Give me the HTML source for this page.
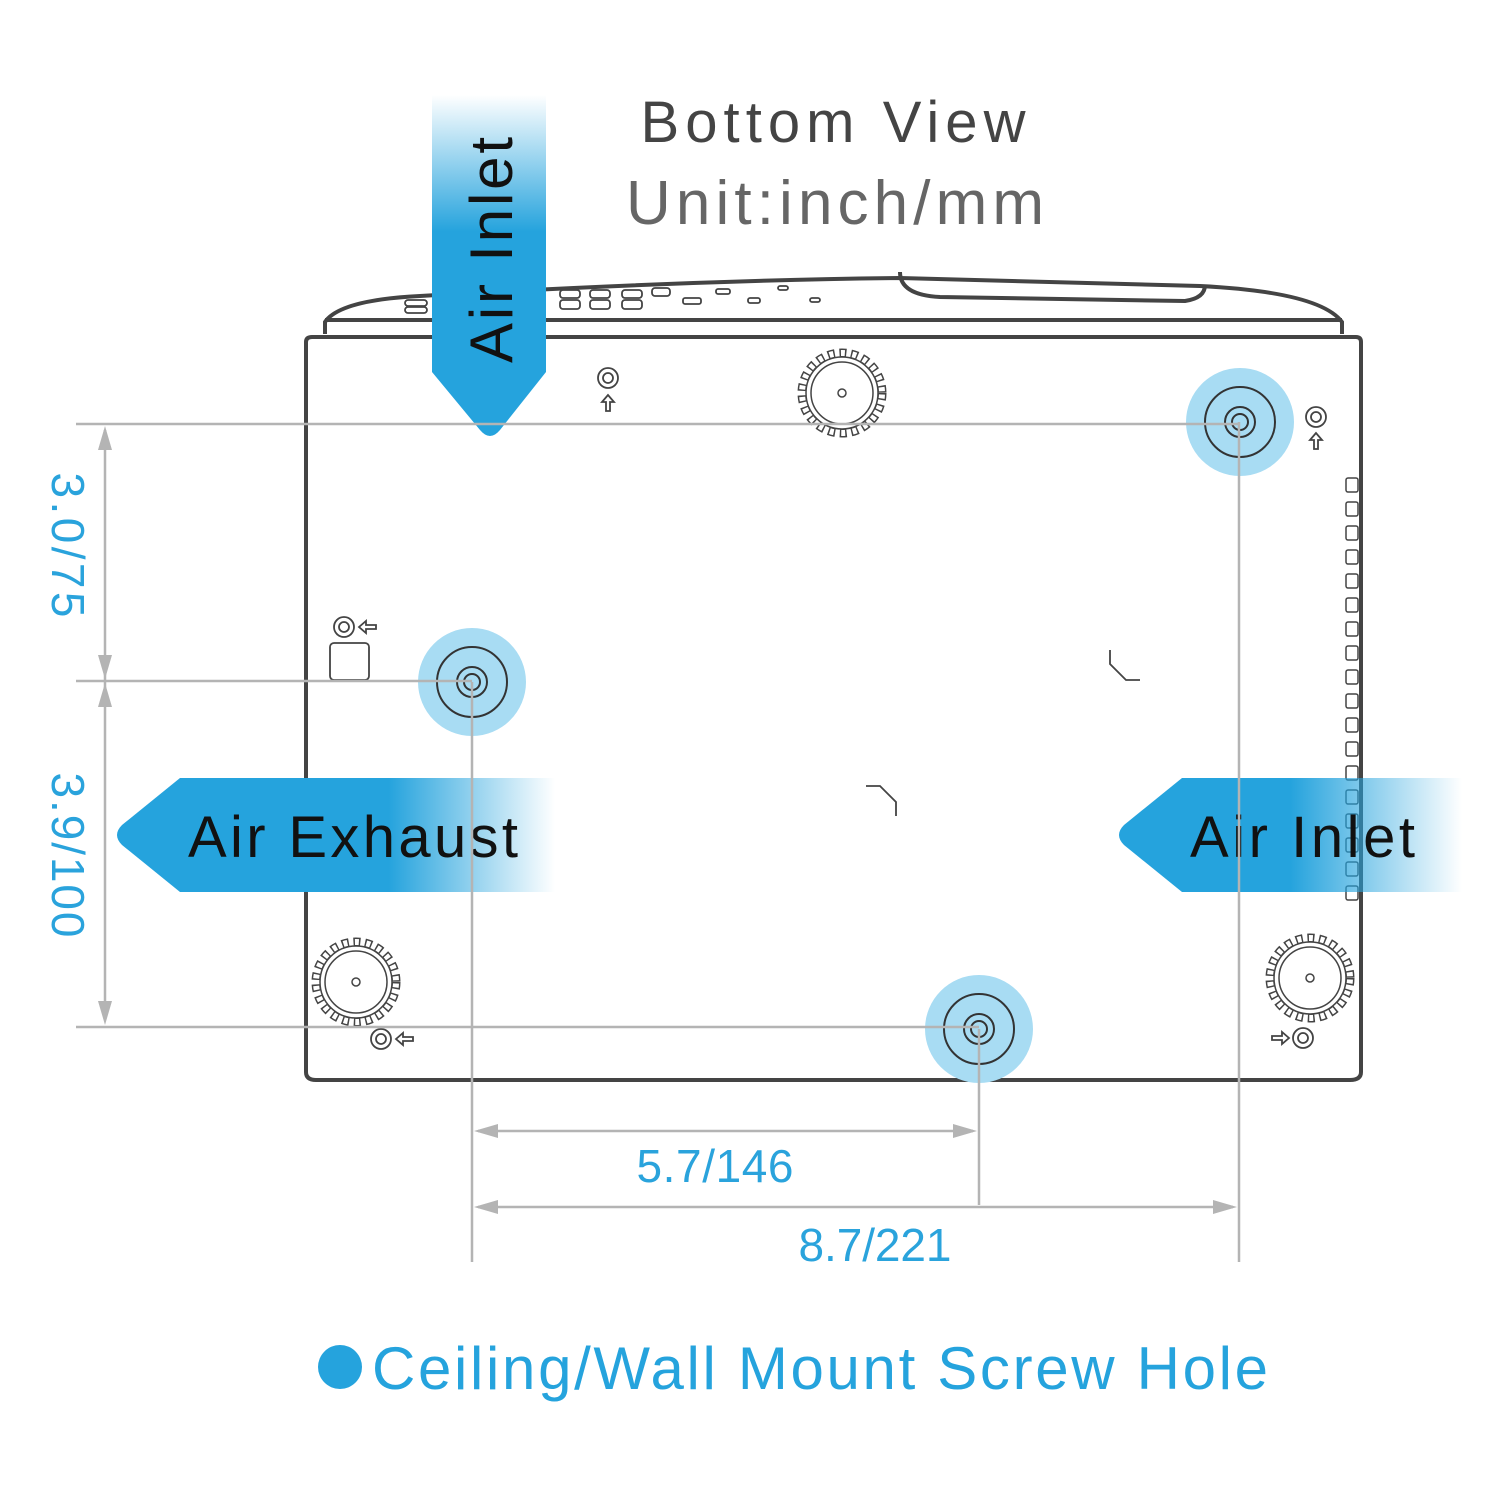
<!DOCTYPE html>
<html><head><meta charset="utf-8"><style>html,body{margin:0;padding:0;background:#fff}svg{display:block}</style></head>
<body>
<svg width="1500" height="1500" viewBox="0 0 1500 1500" xmlns="http://www.w3.org/2000/svg" font-family="Liberation Sans, sans-serif">
<defs>
<linearGradient id="gv" x1="0" y1="0" x2="0" y2="1"><stop offset="0" stop-color="#25a3dd" stop-opacity="0"/><stop offset="0.4" stop-color="#25a3dd"/><stop offset="1" stop-color="#25a3dd"/></linearGradient>
<linearGradient id="gh1" x1="0" y1="0" x2="1" y2="0"><stop offset="0" stop-color="#25a3dd"/><stop offset="0.62" stop-color="#25a3dd"/><stop offset="1" stop-color="#25a3dd" stop-opacity="0"/></linearGradient>
<linearGradient id="gh2" x1="0" y1="0" x2="1" y2="0"><stop offset="0" stop-color="#25a3dd"/><stop offset="0.5" stop-color="#25a3dd"/><stop offset="1" stop-color="#25a3dd" stop-opacity="0"/></linearGradient>
<g id="gear"><circle r="40" fill="none" stroke="#444" stroke-width="9" stroke-dasharray="7 4.6"/><circle r="40" fill="none" stroke="#fff" stroke-width="6" stroke-dasharray="4 7.6" stroke-dashoffset="-1.5"/><circle r="36" fill="#fff" stroke="#444" stroke-width="1.5"/><circle r="31" fill="none" stroke="#444" stroke-width="1.5"/><circle r="4" fill="none" stroke="#444" stroke-width="1.5"/></g>
<g id="hole"><circle r="54" fill="#a8dcf3"/><circle r="35" fill="none" stroke="#333" stroke-width="2"/><circle r="15" fill="none" stroke="#333" stroke-width="2"/><circle r="8" fill="none" stroke="#333" stroke-width="2"/></g>
</defs>
<text x="833" y="142" font-size="58" fill="#444" text-anchor="middle" textLength="385">Bottom View</text>
<text x="835" y="224" font-size="62" fill="#666" text-anchor="middle" textLength="418">Unit:inch/mm</text>
<path d="M325 334 V322 Q340 300 420 296 Q700 280 900 278 L1200 286 Q1320 292 1342 322 V334" fill="none" stroke="#444" stroke-width="4"/>
<line x1="325" y1="320" x2="1342" y2="320" stroke="#444" stroke-width="4"/>
<path d="M900 272 Q900 295 940 297 L1185 301 Q1205 298 1205 285" fill="none" stroke="#444" stroke-width="4"/>
<g fill="none" stroke="#444" stroke-width="1.8">
<rect x="560" y="290" width="20" height="8" rx="3"/><rect x="590" y="290" width="20" height="8" rx="3"/><rect x="622" y="290" width="20" height="8" rx="3"/><rect x="652" y="288" width="18" height="8" rx="3"/>
<rect x="560" y="300" width="20" height="9" rx="3"/><rect x="590" y="300" width="20" height="9" rx="3"/><rect x="622" y="300" width="20" height="9" rx="3"/><rect x="683" y="298" width="18" height="6" rx="2"/>
<rect x="716" y="289" width="14" height="5" rx="2"/><rect x="748" y="298" width="12" height="5" rx="2"/><rect x="778" y="286" width="10" height="4" rx="2"/><rect x="810" y="298" width="10" height="4" rx="2"/>
<rect x="405" y="300" width="22" height="6" rx="3"/><rect x="405" y="307" width="22" height="6" rx="3"/>
</g>
<path d="M306 1072 V342 Q306 337 312 337 H1356 Q1361 337 1361 342 V1072 Q1361 1080 1350 1080 H316 Q306 1080 306 1072 Z" fill="#fff" stroke="#444" stroke-width="4"/>
<g fill="none" stroke="#444" stroke-width="1.5">
<rect x="1346" y="478" width="12" height="14" rx="2"/><rect x="1346" y="502" width="12" height="14" rx="2"/><rect x="1346" y="526" width="12" height="14" rx="2"/><rect x="1346" y="550" width="12" height="14" rx="2"/><rect x="1346" y="574" width="12" height="14" rx="2"/><rect x="1346" y="598" width="12" height="14" rx="2"/><rect x="1346" y="622" width="12" height="14" rx="2"/><rect x="1346" y="646" width="12" height="14" rx="2"/><rect x="1346" y="670" width="12" height="14" rx="2"/><rect x="1346" y="694" width="12" height="14" rx="2"/><rect x="1346" y="718" width="12" height="14" rx="2"/><rect x="1346" y="742" width="12" height="14" rx="2"/><rect x="1346" y="766" width="12" height="14" rx="2"/><rect x="1346" y="790" width="12" height="14" rx="2"/><rect x="1346" y="814" width="12" height="14" rx="2"/><rect x="1346" y="838" width="12" height="14" rx="2"/><rect x="1346" y="862" width="12" height="14" rx="2"/><rect x="1346" y="886" width="12" height="14" rx="2"/>
</g>
<g fill="none" stroke="#444" stroke-width="1.8">
<circle cx="608" cy="378" r="10"/><circle cx="608" cy="378" r="5"/><path d="M608 395 l-6 7 h4 v9 h4 v-9 h4 z"/>
<circle cx="1316" cy="417" r="10"/><circle cx="1316" cy="417" r="5"/><path d="M1316 433 l-6 7 h4 v9 h4 v-9 h4 z"/>
<circle cx="344" cy="627" r="10"/><circle cx="344" cy="627" r="5"/><path d="M359 627 l7 -6 v4 h10 v4 h-10 v4 z"/>
<rect x="330" y="643" width="39" height="37" rx="4"/>
<circle cx="381" cy="1039" r="10"/><circle cx="381" cy="1039" r="5"/><path d="M396 1039 l7 -6 v4 h10 v4 h-10 v4 z"/>
<circle cx="1303" cy="1038" r="10"/><circle cx="1303" cy="1038" r="5"/><path d="M1289 1038 l-7 -6 v4 h-10 v4 h10 v4 z"/>
<path d="M1110 650 v14 l16 16 h14"/><path d="M866 786 h14 l16 16 v14"/>
</g>
<use href="#gear" x="842" y="393"/><use href="#gear" x="356" y="982"/><use href="#gear" x="1310" y="978"/>
<use href="#hole" x="1240" y="422"/><use href="#hole" x="472" y="682"/><use href="#hole" x="979" y="1029"/>
<path d="M432 95 H546 V372 L500 430 Q490 442 480 430 L432 372 Z" fill="url(#gv)"/>
<text transform="translate(512 250) rotate(-90)" font-size="60" fill="#111" text-anchor="middle" textLength="226">Air Inlet</text>
<path d="M180 778 H555 V892 H180 L122 845 Q112 835 122 825 Z" fill="url(#gh1)"/>
<text x="188" y="857" font-size="58" fill="#111" textLength="330">Air Exhaust</text>
<path d="M1182 778 H1462 V892 H1182 L1124 845 Q1114 835 1124 825 Z" fill="url(#gh2)"/>
<text x="1190" y="857" font-size="58" fill="#111" textLength="225">Air Inlet</text>
<g stroke="#b4b4b4" stroke-width="2.5" fill="none">
<line x1="76" y1="424" x2="1240" y2="424"/><line x1="76" y1="681" x2="472" y2="681"/><line x1="76" y1="1027" x2="979" y2="1027"/>
<line x1="105" y1="430" x2="105" y2="1020"/>
<line x1="472" y1="682" x2="472" y2="1262"/><line x1="979" y1="1029" x2="979" y2="1205"/><line x1="1239" y1="422" x2="1239" y2="1262"/>
<line x1="478" y1="1131" x2="973" y2="1131"/><line x1="478" y1="1207" x2="1233" y2="1207"/>
</g>
<g fill="#b4b4b4">
<path d="M105 426 l-7 24 h14 z"/><path d="M105 679 l-7 -24 h14 z"/><path d="M105 683 l-7 24 h14 z"/><path d="M105 1025 l-7 -24 h14 z"/>
<path d="M474 1131 l24 -7 v14 z"/><path d="M977 1131 l-24 -7 v14 z"/><path d="M474 1207 l24 -7 v14 z"/><path d="M1237 1207 l-24 -7 v14 z"/>
</g>
<g fill="#2aa3dc" font-size="46">
<text transform="translate(52 545) rotate(90)" text-anchor="middle" textLength="145">3.0/75</text>
<text transform="translate(52 855) rotate(90)" text-anchor="middle" textLength="165">3.9/100</text>
<text x="715" y="1182" text-anchor="middle" textLength="157">5.7/146</text>
<text x="875" y="1261" text-anchor="middle" textLength="153">8.7/221</text>
</g>
<circle cx="340" cy="1367" r="22" fill="#25a3dd"/>
<text x="372" y="1389" font-size="60" fill="#25a3dd" textLength="896">Ceiling/Wall Mount Screw Hole</text>
</svg>
</body></html>
